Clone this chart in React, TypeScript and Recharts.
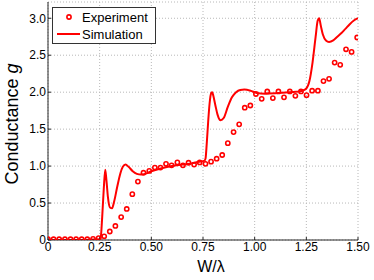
import { ComposedChart, Line, Scatter, XAxis, YAxis, CartesianGrid, Legend, Label } from 'recharts';

// measured conductance (open circles)
const expX = [
  0, 0.027, 0.054, 0.082, 0.109, 0.136, 0.163, 0.19, 0.218, 0.245,
  0.272, 0.299, 0.326, 0.354, 0.381, 0.408, 0.435, 0.462, 0.49, 0.517,
  0.544, 0.571, 0.598, 0.626, 0.653, 0.68, 0.707, 0.734, 0.762, 0.789,
  0.816, 0.843, 0.87, 0.898, 0.925, 0.952, 0.979, 1.006, 1.034, 1.061,
  1.088, 1.115, 1.142, 1.17, 1.197, 1.224, 1.251, 1.278, 1.306, 1.333,
  1.36, 1.387, 1.414, 1.442, 1.469, 1.496,
];
const expG = [
  0.01, 0.01, 0.01, 0.01, 0.01, 0.01, 0.01, 0.01, 0.015, 0.025,
  0.05, 0.115, 0.19, 0.31, 0.42, 0.62, 0.79, 0.91, 0.935, 0.98,
  0.98, 1.03, 1.01, 1.05, 1.01, 1.045, 1.02, 1.05, 1.03, 1.06,
  1.1, 1.15, 1.31, 1.46, 1.565, 1.79, 1.82, 1.975, 1.91, 2.01,
  1.92, 2.01, 1.93, 2.01, 1.95, 2.01, 1.96, 2.02, 2.02, 2.15,
  2.18, 2.4, 2.37, 2.58, 2.545, 2.74,
];

// simulated conductance (solid line)
const simX = [
  0, 0.1, 0.2, 0.25, 0.255, 0.262, 0.27, 0.277, 0.283, 0.29,
  0.3, 0.31, 0.32, 0.335, 0.35, 0.362, 0.375, 0.39, 0.41, 0.43,
  0.45, 0.47, 0.5, 0.55, 0.6, 0.65, 0.7, 0.73, 0.755, 0.762,
  0.768, 0.775, 0.782, 0.79, 0.795, 0.8, 0.81, 0.82, 0.835, 0.85,
  0.87, 0.89, 0.91, 0.93, 0.95, 0.98, 1.01, 1.05, 1.1, 1.15,
  1.2, 1.23, 1.25, 1.265, 1.28, 1.295, 1.305, 1.312, 1.32, 1.33,
  1.345, 1.36, 1.38, 1.4, 1.42, 1.44, 1.46, 1.48, 1.5,
];
const simG = [
  0, 0, 0.005, 0.01, 0.03, 0.3, 0.7, 0.95, 0.8, 0.58,
  0.44, 0.43, 0.52, 0.72, 0.9, 0.99, 1.02, 0.99, 0.93, 0.895,
  0.885, 0.895, 0.93, 0.97, 1.0, 1.02, 1.04, 1.06, 1.07, 1.1,
  1.3, 1.6, 1.85, 1.99, 2.0, 1.95, 1.82, 1.7, 1.62, 1.65,
  1.8, 1.93, 2.0, 2.03, 2.035, 2.02, 1.99, 1.98, 1.985, 1.995,
  2.005, 2.02, 2.05, 2.15, 2.4, 2.75, 2.97, 3.0, 2.9, 2.78,
  2.7, 2.68, 2.7, 2.75, 2.8, 2.86, 2.92, 2.97, 3.0,
];

const xTicks = [0, 0.25, 0.5, 0.75, 1.0, 1.25, 1.5];
const yTicks = [0, 0.5, 1.0, 1.5, 2.0, 2.5, 3.0];

const expData = expX.map((x, i) => ({ x, g: expG[i] }));
const simData = simX.map((x, i) => ({ x, g: simG[i] }));

const RED = '#ff0000';
const FONT = '"Liberation Sans", Arial, Helvetica, sans-serif';
const AXIS = '#262626';

const tickStyle = { fontSize: 12, fill: '#000', fontFamily: FONT };

function Ring(props: any) {
  const { cx, cy } = props;
  return <circle cx={cx} cy={cy} r={2.1} fill="none" stroke={RED} strokeWidth={1.6} />;
}

function LegendBox() {
  return (
    <svg width={104} height={37} style={{ display: 'block' }}>
      <rect x={0.5} y={0.5} width={103} height={36} fill="#fff" stroke="#333" strokeWidth={1} />
      <circle cx={17} cy={10} r={2.1} fill="none" stroke={RED} strokeWidth={1.6} />
      <text x={30} y={14.5} fontSize={13} fontFamily={FONT} fill="#000">Experiment</text>
      <line x1={5} x2={28} y1={27} y2={27} stroke={RED} strokeWidth={2} />
      <text x={30} y={31.5} fontSize={13} fontFamily={FONT} fill="#000">Simulation</text>
    </svg>
  );
}

function YTitle(props: any) {
  const { viewBox } = props;
  const cy = viewBox.y + viewBox.height / 2 + 3;
  const cx = viewBox.x + 17.5;
  return (
    <text x={cx} y={cy} transform={`rotate(-90 ${cx} ${cy})`} textAnchor="middle" fontSize={18} fontFamily={FONT} fill="#000">
      Conductance <tspan fontStyle="italic">g</tspan>
    </text>
  );
}

function XTitle(props: any) {
  const { viewBox } = props;
  const cx = viewBox.x + viewBox.width / 2 + 8;
  return (
    <text x={cx} y={272} textAnchor="middle" fontSize={16} fontFamily={FONT} fill="#000">
      W/λ
    </text>
  );
}

export default function App() {
  return (
    <div style={{ position: 'fixed', left: 0, top: 0, width: 374, height: 280, background: '#fff' }}>
      <ComposedChart width={374} height={280} margin={{ top: 2, right: 16, bottom: 0, left: 0 }}>
        <CartesianGrid stroke="#b8b8b8" strokeDasharray="1 2" />
        <XAxis
          dataKey="x"
          type="number"
          domain={[0, 1.5]}
          ticks={xTicks}
          interval={0}
          height={40}
          tick={tickStyle}
          tickFormatter={(v: number) => (v === 0 ? '0' : v.toFixed(2))}
          tickSize={-3}
          tickMargin={5}
          stroke={AXIS}
          allowDataOverflow
        >
          <Label content={<XTitle />} />
        </XAxis>
        <XAxis
          xAxisId="top"
          orientation="top"
          type="number"
          domain={[0, 1.5]}
          ticks={xTicks}
          height={0}
          tickFormatter={() => ''}
          tickSize={-3}
          stroke={AXIS}
        />
        <YAxis
          type="number"
          domain={[0, 3.22]}
          ticks={yTicks}
          interval={0}
          width={48}
          tick={tickStyle}
          tickFormatter={(v: number) => (v === 0 ? '0' : v.toFixed(1))}
          tickSize={-3}
          tickMargin={5}
          stroke={AXIS}
          allowDataOverflow
        >
          <Label content={<YTitle />} />
        </YAxis>
        <YAxis
          yAxisId="right"
          orientation="right"
          type="number"
          domain={[0, 3.22]}
          ticks={yTicks}
          width={0}
          tickFormatter={() => ''}
          tickSize={-3}
          stroke={AXIS}
        />
        <Line
          data={simData}
          dataKey="g"
          type="monotone"
          stroke={RED}
          strokeWidth={2}
          dot={false}
          isAnimationActive={false}
        />
        <Scatter data={expData} dataKey="g" shape={<Ring />} isAnimationActive={false} />
        <Legend
          layout="horizontal"
          align="center"
          verticalAlign="middle"
          wrapperStyle={{ left: 52, top: 7, width: 104, height: 37 }}
          content={<LegendBox />}
        />
      </ComposedChart>
    </div>
  );
}
